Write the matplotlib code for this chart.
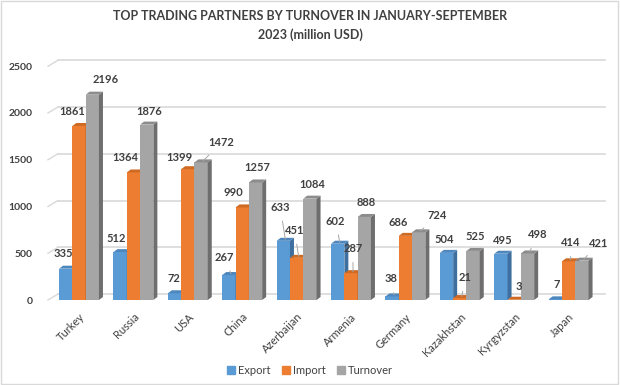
import matplotlib.pyplot as plt
from matplotlib.patches import Polygon, Patch, Rectangle

plt.rcParams['font.family'] = ['Lato', 'DejaVu Sans']

countries = ['Turkey', 'Russia', 'USA', 'China', 'Azerbaijan', 'Armenia',
             'Germany', 'Kazakhstan', 'Kyrgyzstan', 'Japan']
export = [335, 512, 72, 267, 633, 602, 38, 504, 495, 7]
imports = [1861, 1364, 1399, 990, 451, 287, 686, 21, 3, 414]
turnover = [2196, 1876, 1472, 1257, 1084, 888, 724, 525, 498, 421]
series_names = ['Export', 'Import', 'Turnover']

# label offsets in pixels (centre of text relative to top of bar), and leader-line flags
exp_off = [(-4, 14), (-6, 12), (-3, 13), (-7, 16), (-5, 32), (-4, 21), (-3, 16), (-4, 12), (0, 12), (-1, 13)]
imp_off = [(-9, 13), (-10, 13), (-10, 10), (-11, 13), (-4, 26), (0, 23), (-9, 12), (3, 19), (3, 12), (0, 17)]
tur_off = [(11, 14), (0, 12), (18, 18), (0, 13), (0, 13), (0, 13), (16, 15), (0, 13), (8, 17), (15, 16)]
exp_lead = [0, 0, 0, 1, 1, 1, 1, 0, 0, 0]
imp_lead = [0, 0, 0, 0, 1, 1, 0, 1, 0, 1]
tur_lead = [0, 0, 1, 0, 0, 0, 1, 0, 1, 1]

front = ['#5B9BD5', '#ED7D31', '#A5A5A5']
side = ['#3F6F9F', '#B05A1E', '#6E6E6E']
top = ['#4E87BE', '#CF6A24', '#8C8C8C']

fig = plt.figure(figsize=(6.2, 3.85), dpi=100)
fig.patches.append(Rectangle((0.002, 0.003), 0.994, 0.994, transform=fig.transFigure,
                             fill=False, edgecolor='#D9D9D9', lw=1))
ax = fig.add_axes([48 / 620, 85 / 385, 557 / 620, 233.75 / 385])
ax.set_xlim(-0.57, 9.669)
ax.set_ylim(0, 2500)

px_x = 1 / 54.4
px_y = 2500 / 233.75
w = 13.3 * px_x
ddx, ddy = 4 * px_x, 3 * px_y

# back-wall gridlines
for v in range(0, 2501, 500):
    ax.plot([-0.57, -0.57 + 10 * px_x], [v, v + 6 * px_y], color='#D9D9D9', lw=1, clip_on=False, zorder=1)
    ax.plot([-0.57 + 10 * px_x, 9.669], [v + 6 * px_y] * 2, color='#D9D9D9', lw=1.2, clip_on=False, zorder=1)

all_vals = [export, imports, turnover]
all_off = [exp_off, imp_off, tur_off]
all_lead = [exp_lead, imp_lead, tur_lead]

for i in range(len(countries)):
    for s in range(3):
        v = all_vals[s][i]
        x0 = i - 1.5 * w + s * w
        ax.bar(x0, v, width=w, align='edge', color=front[s], zorder=3)
        ax.add_patch(Polygon([(x0 + w, 0), (x0 + w + ddx, ddy), (x0 + w + ddx, v + ddy), (x0 + w, v)],
                             closed=True, facecolor=side[s], edgecolor='none', zorder=3))
        ax.add_patch(Polygon([(x0, v), (x0 + ddx, v + ddy), (x0 + w + ddx, v + ddy), (x0 + w, v)],
                             closed=True, facecolor=top[s], edgecolor='none', zorder=3))

for i in range(len(countries)):
    for s in range(3):
        v = all_vals[s][i]
        cx = i - w + s * w
        ox, oy = all_off[s][i]
        kw = {}
        if all_lead[s][i]:
            kw['arrowprops'] = dict(arrowstyle='-', color='#A6A6A6', lw=0.7, shrinkA=4, shrinkB=0)
        ax.annotate(str(v), xy=(cx + ddx / 2, v + ddy / 2), xytext=(ox, oy), textcoords='offset pixels',
                    ha='center', va='center', fontsize=8, fontweight='bold', color='#404040',
                    annotation_clip=False, zorder=5, **kw)

for sp in ax.spines.values():
    sp.set_visible(False)
ax.set_yticks(range(0, 2501, 500))
ax.set_yticklabels([str(v) for v in range(0, 2501, 500)], fontsize=7.5, fontweight='bold', color='#404040')
ax.set_xticks(range(len(countries)))
ax.set_xticklabels(countries, rotation=45, ha='right', rotation_mode='anchor', fontsize=8, color='#404040')
ax.tick_params(axis='y', length=0, pad=11)
ax.tick_params(axis='x', length=0, pad=8)

fig.text(0.5, 1 - 16 / 385, 'TOP TRADING PARTNERS BY TURNOVER IN JANUARY-SEPTEMBER',
         ha='center', va='center', fontsize=9, fontweight='bold', color='#404040')
fig.text(0.5, 1 - 35 / 385, '2023 (million USD)',
         ha='center', va='center', fontsize=9, fontweight='bold', color='#404040')

handles = [Patch(color=c, label=n) for c, n in zip(front, series_names)]
fig.legend(handles=handles, loc='center', bbox_to_anchor=(0.5, 1 - 370 / 385), ncol=3, frameon=False,
           fontsize=8, handlelength=0.7, handleheight=0.7, handletextpad=0.3, columnspacing=1.0,
           labelcolor='#404040')

fig.savefig('out.png', dpi=100)
